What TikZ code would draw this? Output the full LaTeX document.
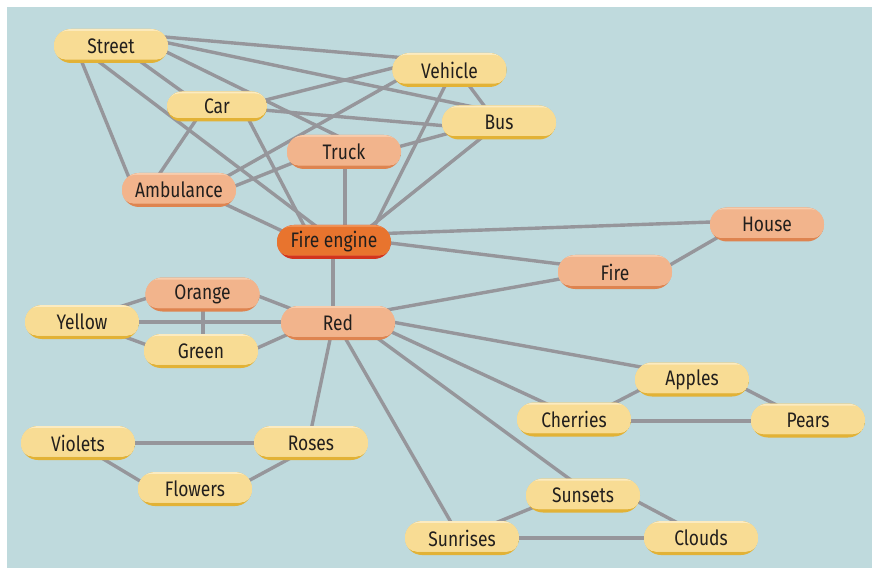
\documentclass[tikz,border=0pt]{standalone}
\usepackage{fontspec}
\setmainfont{Fira Sans}[FakeStretch=0.83]
\usetikzlibrary{shapes.misc,calc}
\pgfdeclarelayer{panel}
\pgfdeclarelayer{links}
\pgfsetlayers{panel,links,main}

\definecolor{panelbg}{HTML}{BFDADD}
\definecolor{linkgray}{HTML}{96969B}
\definecolor{ylwD}{HTML}{E2B236}
\definecolor{ylwM}{HTML}{F8DC94}
\definecolor{ylwL}{HTML}{FCEBC0}
\definecolor{salD}{HTML}{DE8450}
\definecolor{salM}{HTML}{F2B48C}
\definecolor{salL}{HTML}{F8CDAD}
\definecolor{fireD}{HTML}{D2341E}
\definecolor{fireM}{HTML}{E8742E}
\definecolor{fireL}{HTML}{EF9358}
\definecolor{labeltext}{HTML}{221F1D}

\tikzset{
  pill/.style n args={3}{rounded rectangle, minimum width=114pt, minimum height=34pt,
    inner sep=0pt, fill=#1, text=labeltext, font=\fontsize{21}{24}\selectfont,
    path picture={
      \fill[#3, rounded corners=12pt]
        ([yshift=3.5pt]path picture bounding box.south west) rectangle
        (path picture bounding box.north east);
      \fill[#2, rounded corners=12pt]
        ([yshift=3.5pt]path picture bounding box.south west) rectangle
        ([yshift=-2pt]path picture bounding box.north east);
    }},
  yellow/.style={pill={ylwD}{ylwM}{ylwL}},
  salmon/.style={pill={salD}{salM}{salL}},
  hot/.style={pill={fireD}{fireM}{fireL}},
  small/.style={minimum width=100pt, minimum height=30pt},
  link/.style={draw=linkgray, line width=3.4pt},
}
% connector between two nodes, each end given as an offset from the node centre
\newcommand\conn[4]{\draw[link] ($(#1)+(#2)$) -- ($(#3)+(#4)$);}

\begin{document}
\begin{tikzpicture}[x=1pt, y=-1pt]
\useasboundingbox (0,0) rectangle (872,569);
\begin{pgfonlayer}{panel}
  \fill[panelbg] (7,7) rectangle (872,568);
\end{pgfonlayer}

% vehicles
\node[yellow] (street)  at (111,46)    {Street};
\node[yellow] (vehicle) at (449.5,70)  {Vehicle};
\node[yellow, small] (car) at (217,106.5) {Car};
\node[yellow] (bus)     at (499,122.5) {Bus};
\node[salmon] (truck)   at (344,152)   {Truck};
\node[salmon] (amb)     at (179,190)   {Ambulance};
\node[hot]    (fe)      at (334,242)   {Fire engine};
% fire
\node[salmon] (house)   at (767,224.5) {House};
\node[salmon] (fire)    at (615,272)   {Fire};
% colours
\node[salmon] (orange)  at (202.5,294.5) {Orange};
\node[yellow] (yellow)  at (82,322)    {Yellow};
\node[salmon] (red)     at (338,323)   {Red};
\node[yellow] (green)   at (201,351)   {Green};
% fruit
\node[yellow] (apples)  at (692,379.5) {Apples};
\node[yellow] (cherries) at (574,419.5) {Cherries};
\node[yellow] (pears)   at (808,420.5) {Pears};
% flowers
\node[yellow] (violets) at (78,443)    {Violets};
\node[yellow] (roses)   at (311,443)   {Roses};
\node[yellow] (flowers) at (195,489)   {Flowers};
% sky
\node[yellow] (sunsets)  at (583,495.5) {Sunsets};
\node[yellow] (sunrises) at (462,538)   {Sunrises};
\node[yellow] (clouds)   at (701,538)   {Clouds};

\begin{pgfonlayer}{links}
  \conn{street}{19,-12}{vehicle}{-9,-9}
  \conn{street}{29,-9}{bus}{-9,-12}
  \conn{street}{29,-7}{truck}{12,-7}
  \conn{street}{19,8}{car}{-17,-2}
  \conn{street}{-21,9}{fe}{-9,-9}
  \conn{street}{-32,9}{amb}{-47,-5}
  \conn{car}{23,0}{vehicle}{-29,-9}
  \conn{car}{23,1.5}{bus}{-29,5.5}
  \conn{car}{28,6}{fe}{-24,-5}
  \conn{car}{-16,6}{amb}{-27,-5}
  \conn{amb}{31,-4}{vehicle}{-39,2.6}
  \conn{amb}{36,4}{truck}{-39,6}
  \conn{amb}{31,7}{fe}{-34,-2.6}
  \conn{truck}{1,0}{fe}{11,0}
  \conn{truck}{26,2.5}{bus}{-29,5}
  \conn{vehicle}{1,5}{fe}{36,-7}
  \conn{vehicle}{14,8}{bus}{-8,-7.5}
  \conn{bus}{-1.5,2.5}{fe}{26,-7}
  \conn{fe}{36,-8}{house}{-27,-3.5}
  \conn{fe}{36,-1.5}{fire}{-25,-4.3}
  \conn{fire}{35,4.5}{house}{-27,0}
  \conn{red}{32,-10}{fire}{-25,1.6}
  \conn{fe}{-1,0}{red}{-5,0}
  \conn{orange}{37.5,-5.5}{red}{-28,-7}
  \conn{yellow}{28,-12}{orange}{-32.5,-3.8}
  \conn{orange}{0.5,0}{green}{2,0}
  \conn{yellow}{0,0}{red}{0,-1}
  \conn{yellow}{28,9.4}{green}{-31,2.5}
  \conn{green}{34,7}{red}{-28,1.4}
  \conn{red}{-6,7}{roses}{-1,-8}
  \conn{red}{2.6,7}{sunrises}{-6.6,-8}
  \conn{red}{27,6}{sunsets}{-8,-12.5}
  \conn{red}{32,-1}{cherries}{-14,-9.5}
  \conn{red}{32,-5}{apples}{-32,-9}
  \conn{cherries}{26,-9}{apples}{-32,0}
  \conn{apples}{33,-1}{pears}{-18,-8.5}
  \conn{cherries}{0,1.5}{pears}{0,0.5}
  \conn{violets}{0,0}{roses}{0,0}
  \conn{violets}{12,8}{flowers}{-35,4}
  \conn{flowers}{30,4.5}{roses}{-11,10}
  \conn{sunrises}{18,-8.7}{sunsets}{-33,5}
  \conn{sunsets}{27,-8.5}{clouds}{-11,-8.5}
  \conn{sunrises}{0,0}{clouds}{0,0}
\end{pgfonlayer}
\end{tikzpicture}
\end{document}
